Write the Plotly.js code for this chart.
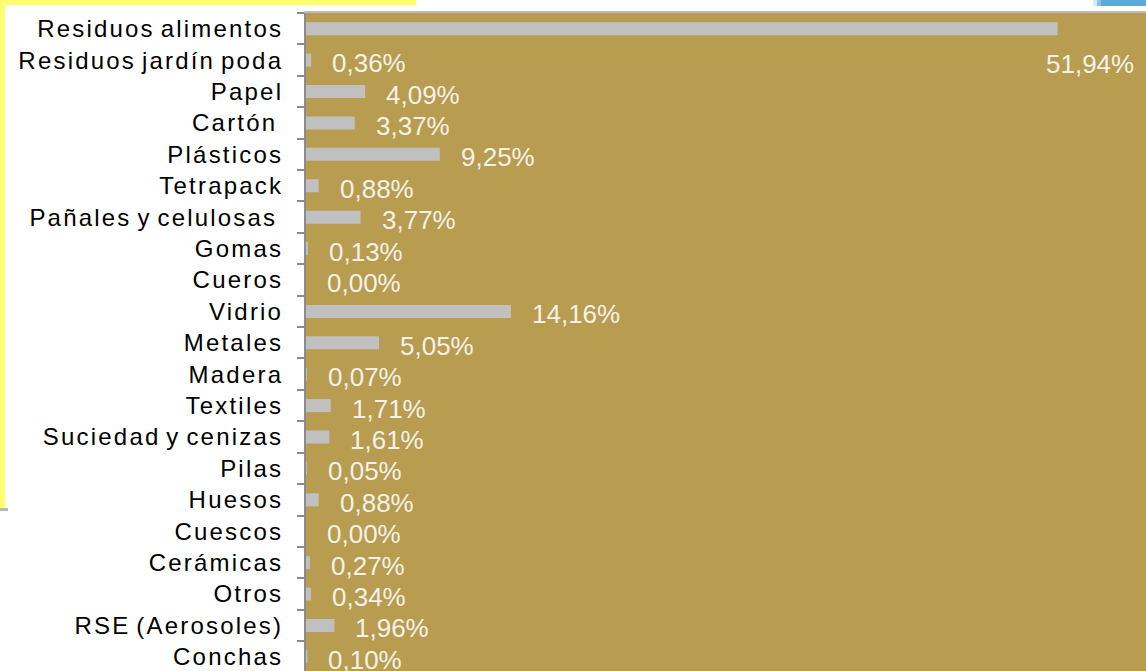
<!DOCTYPE html>
<html>
<head>
<meta charset="utf-8">
<script src="https://cdn.plot.ly/plotly-3.0.1.min.js"></script>
<style>
  html, body { margin: 0; padding: 0; background: #ffffff; }
  #chart { width: 1146px; height: 671px; }
  .ytick text { letter-spacing: 2.2px; word-spacing: -3px; }
</style>
</head>
<body>
<div id="chart"></div>
<script>
// ---- data ----
const categories = [
  "Residuos alimentos", "Residuos jardín poda", "Papel", "Cartón\u00a0", "Plásticos",
  "Tetrapack", "Pañales y celulosas\u00a0", "Gomas", "Cueros", "Vidrio", "Metales",
  "Madera", "Textiles", "Suciedad y cenizas", "Pilas", "Huesos", "Cuescos",
  "Cerámicas", "Otros", "RSE (Aerosoles)", "Conchas"
];
const values = [
  51.94, 0.36, 4.09, 3.37, 9.25,
  0.88, 3.77, 0.13, 0.00, 14.16, 5.05,
  0.07, 1.71, 1.61, 0.05, 0.88, 0.00,
  0.27, 0.34, 1.96, 0.10
];
const valueLabels = values.map(v => v.toFixed(2).replace('.', ',') + '%');

// ---- layout geometry ----
const W = 1146, H = 671;
const M = { l: 306, r: 0, t: 13, b: 0 };
const PW = W - M.l - M.r, PH = H - M.t - M.b;
const px = x => (x - M.l) / PW;          // page x -> paper x
const py = y => (H - M.b - y) / PH;      // page y -> paper y

const gold = '#B89C50';
const barGrey = '#C0C0C0';
const labelColor = '#F4F2EA';
const yellow = '#FFFF6E';

const annotations = values.map((v, i) => {
  const overflow = v > 45;
  return {
    x: v, y: categories[i], xref: 'x', yref: 'y',
    text: valueLabels[i], showarrow: false,
    xanchor: overflow ? 'right' : 'left',
    yanchor: 'middle',
    xshift: overflow ? 78 : 19,
    yshift: overflow ? -35 : -3,
    font: { family: 'Liberation Sans, Arial, sans-serif', size: 26, color: labelColor }
  };
});

const shapes = [
  // yellow frame pieces (top-left)
  { type: 'rect', xref: 'paper', yref: 'paper', x0: px(0), x1: px(416), y0: py(5), y1: py(0),
    fillcolor: yellow, line: { width: 0 }, layer: 'above' },
  { type: 'rect', xref: 'paper', yref: 'paper', x0: px(0), x1: px(5), y0: py(508), y1: py(0),
    fillcolor: yellow, line: { width: 0 }, layer: 'above' },
  { type: 'rect', xref: 'paper', yref: 'paper', x0: px(0), x1: px(8), y0: py(511), y1: py(508),
    fillcolor: '#B8B8B8', line: { width: 0 }, layer: 'above' },
  // blue piece (top-right)
  { type: 'rect', xref: 'paper', yref: 'paper', x0: px(1093), x1: px(1097), y0: py(6), y1: py(0),
    fillcolor: '#D6EAF6', line: { width: 0 }, layer: 'above' },
  { type: 'rect', xref: 'paper', yref: 'paper', x0: px(1097), x1: px(1101), y0: py(6), y1: py(0),
    fillcolor: '#8CC4E6', line: { width: 0 }, layer: 'above' },
  { type: 'rect', xref: 'paper', yref: 'paper', x0: px(1101), x1: px(1146), y0: py(6), y1: py(0),
    fillcolor: '#5AAADA', line: { width: 0 }, layer: 'above' }
];

const trace = {
  type: 'bar', orientation: 'h',
  x: values, y: categories,
  width: 0.414,
  marker: { color: barGrey, line: { width: 0 } },
  hoverinfo: 'skip'
};

const layout = {
  width: W, height: H,
  margin: M,
  paper_bgcolor: '#ffffff',
  plot_bgcolor: gold,
  showlegend: false,
  font: { family: 'Liberation Sans, Arial, sans-serif' },
  xaxis: {
    range: [0, 58.05], fixedrange: true,
    side: 'top', showgrid: false, zeroline: false,
    showticklabels: false, ticks: '',
    showline: true, linecolor: '#BDBDBD', linewidth: 2
  },
  yaxis: {
    type: 'category',
    categoryorder: 'array', categoryarray: categories,
    range: [20.45, -0.5], autorange: false, fixedrange: true,
    showgrid: false, zeroline: false,
    showline: true, linecolor: '#8C8C8C', linewidth: 2,
    ticks: 'outside', ticklen: 7, tickwidth: 2, tickcolor: '#8C8C8C',
    tickson: 'boundaries',
    ticklabelstandoff: 16,
    tickfont: { family: 'Liberation Sans, Arial, sans-serif', size: 24, color: '#000000' }
  },
  annotations: annotations,
  shapes: shapes
};

Plotly.newPlot('chart', [trace], layout, { displayModeBar: false, staticPlot: true });
</script>
</body>
</html>
